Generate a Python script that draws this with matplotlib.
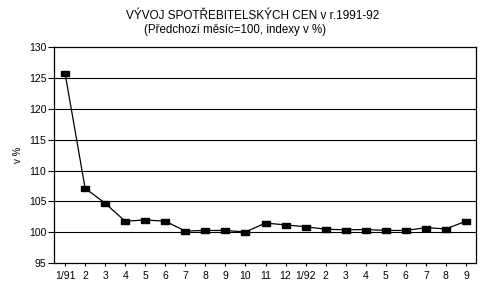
import matplotlib
matplotlib.use('Agg')
import matplotlib.pyplot as plt

plt.rcParams['font.family'] = ['Liberation Sans', 'DejaVu Sans']

# mesice 1/91 .. 9/92
months = ['1/91', '2', '3', '4', '5', '6', '7', '8', '9', '10', '11', '12',
          '1/92', '2', '3', '4', '5', '6', '7', '8', '9']
index = [125.8, 107.15, 104.7, 101.8, 102.0, 101.8, 100.2, 100.3, 100.3, 100.05,
         101.5, 101.2, 100.9, 100.5, 100.4, 100.45, 100.3, 100.3, 100.75, 100.55, 101.8]
yticks = [95, 100, 105, 110, 115, 120, 125, 130]

fig = plt.figure(figsize=(5, 2.87), dpi=100)
ax = fig.add_axes([0.108, 0.083, 0.844, 0.753])

# vodorovne mrizky
for v in yticks[1:-1]:
    ax.axhline(v, color='black', lw=0.8, zorder=1)

rect = [(-1, -0.6), (1, -0.6), (1, 0.6), (-1, 0.6), (-1, -0.6)]
x = list(range(len(months)))
ax.plot(x, index, color='black', lw=0.9, marker=rect, markersize=6,
        markerfacecolor='black', markeredgecolor='black', zorder=3)

ax.set_xlim(-0.55, 20.5)
ax.set_ylim(95, 130)
ax.set_yticks(yticks)
ax.set_xticks(x)
ax.set_xticklabels(months)
ax.tick_params(axis='y', labelsize=7.5, length=4, width=0.8, direction='out', pad=1.5)
ax.tick_params(axis='x', labelsize=7.5, length=2.5, width=0.8, direction='out', pad=3)
for s in ax.spines.values():
    s.set_linewidth(0.9)

ax.set_ylabel('v %', fontsize=7, labelpad=4)

fig.text(0.506, 0.944, 'VÝVOJ SPOTŘEBITELSKÝCH CEN v r.1991-92', ha='center', va='center', fontsize=8.5)
fig.text(0.471, 0.896, '(Předchozí měsíc=100, indexy v %)', ha='center', va='center', fontsize=8.3)

fig.savefig('out.png', dpi=100)
